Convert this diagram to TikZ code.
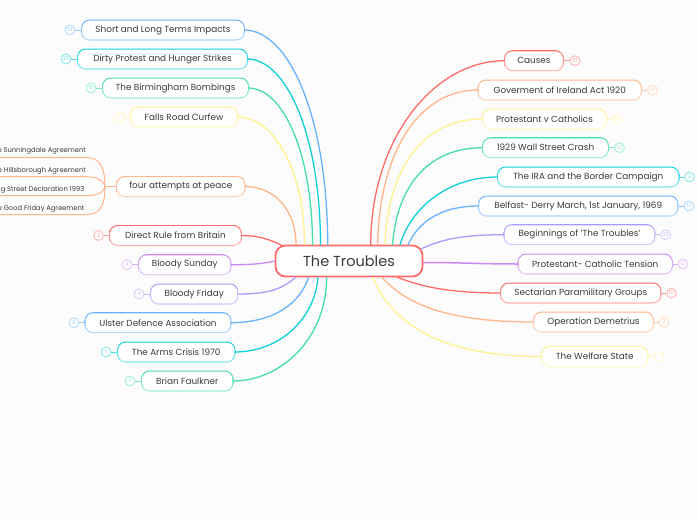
\documentclass[tikz,border=0pt]{standalone}
\usepackage{fontspec}
\setmainfont{Poppins}
\definecolor{cred}{HTML}{FF6B68}
\definecolor{corange}{HTML}{FFB587}
\definecolor{cyellow}{HTML}{FFF38F}
\definecolor{cgreen}{HTML}{45DDA8}
\definecolor{ccyan}{HTML}{0FD0DA}
\definecolor{cblue}{HTML}{66B3FF}
\definecolor{clav}{HTML}{A99BFF}
\definecolor{cpurple}{HTML}{C98AF0}
\definecolor{ink}{HTML}{3A3A40}
\newcommand\leaflabel[1]{\makebox[110pt][r]{#1}}
\tikzset{
  topicbox/.style={rectangle,fill=white,rounded corners=7.7pt,inner sep=0pt,text=ink,font=\fontsize{8.85}{10}\selectfont},
  badge/.style={circle,draw=#1!45,fill=white,line width=1pt,minimum size=9.8pt,inner sep=0pt,text=#1!60,font=\fontsize{5.4}{6}\selectfont},
  stub/.style={#1,line width=1pt},
  conn/.style={#1,line width=1.3pt},
  leaftext/.style={anchor=south east,inner sep=0pt,minimum height=12pt,text=ink,font=\fontsize{6.75}{8}\selectfont},
  rootbox/.style={rectangle,draw=cred,line width=1.8pt,fill=white,rounded corners=10pt,inner sep=0pt,minimum width=147pt,minimum height=31pt,text=ink,font=\fontsize{14.5}{16}\selectfont}
}
% name, colour, x1, x2, cy, text, badge x, number
\newcommand\topicnode[8]{%
  \shade[top color=#2,bottom color=#2!50,rounded corners=8.7pt] ({#3},{#5-10.5}) rectangle ({#4},{#5+10.5});
  \node[topicbox,minimum width={(#4-#3-2.2)*1pt},minimum height=18.8pt] (#1) at ({(#3+#4)/2},#5) {\raisebox{-1.1pt}{#6}};
  \node[badge=#2] (#1b) at (#7,#5) {#8};
  \draw[stub=#2!70] (#1) -- (#1b);
}
\begin{document}
\begin{tikzpicture}[x=1pt,y=-1pt]
\useasboundingbox (0,0) rectangle (697,520);
\clip (0,0) rectangle (697,520);
\fill[white!99!black] (0,0) rectangle (697,520);
% left topics
\topicnode{short}{cblue}{81}{245}{30}{Short and Long Terms Impacts}{70}{51}
\topicnode{dirty}{ccyan}{77}{248}{59}{Dirty Protest and Hunger Strikes}{66}{23}
\topicnode{birm}{cgreen}{102}{249}{88}{The Birmingham Bombings}{91}{15}
\topicnode{falls}{cyellow}{130}{238}{117}{Falls Road Curfew}{119}{2}
\shade[top color=corange,bottom color=corange!60,rounded corners=8.7pt] (116,176) rectangle (245.5,197);
\node[topicbox,minimum width=127.3pt,minimum height=18.8pt] (four) at (180.75,186.5) {\raisebox{-1.1pt}{four attempts at peace}};
\topicnode{direct}{cred}{109}{242}{235.5}{Direct Rule from Britain}{98.5}{3}
\topicnode{sunday}{cpurple}{138}{231.5}{264.7}{Bloody Sunday}{127}{4}
\topicnode{friday}{clav}{150}{238.5}{294}{Bloody Friday}{139}{4}
\topicnode{ulster}{cblue}{84.5}{231.5}{322.7}{Ulster Defence Association}{74}{8}
\topicnode{arms}{ccyan}{117}{235.5}{352}{The Arms Crisis 1970}{106}{1}
\topicnode{brian}{cgreen}{141}{233.5}{381}{Brian Faulkner}{130}{2}
% right topics
\topicnode{causes}{cred}{504}{564}{60.7}{Causes}{575}{10}
\topicnode{gov}{corange}{477.5}{642}{90}{Goverment of Ireland Act 1920}{652.5}{19}
\topicnode{prot}{cyellow}{482}{607}{119}{Protestant v Catholics}{617.5}{16}
\topicnode{wall}{cgreen}{482}{609}{147.7}{1929 Wall Street Crash}{619.5}{10}
\topicnode{ira}{ccyan}{497}{679.5}{177}{The IRA and the Border Campaign}{689.5}{2}
\topicnode{belf}{cblue}{478}{678.5}{206}{Belfast- Derry March, 1st January, 1969}{689}{13}
\topicnode{begin}{clav}{503.5}{655.5}{234.7}{Beginnings of 'The Troubles'}{665.5}{32}
\topicnode{pct}{cpurple}{517.5}{673}{264}{Protestant- Catholic Tension}{683}{12}
\topicnode{sect}{cred}{500}{661.5}{293}{Sectarian Paramilitary Groups}{671.5}{10}
\topicnode{oper}{corange}{533}{654}{322}{Operation Demetrius}{664}{3}
\topicnode{welf}{cyellow}{541}{648.5}{356.5}{The Welfare State}{659}{7}
% root
\node[rootbox] (root) at (349,261) {\raisebox{-0.8pt}{The Troubles}};
% attachment points on the root's outline
\foreach \n/\x/\y in {a/327.7/245,b/320.5/245,c/312.5/245,d/304.5/245,e/296/245,f/282/245.5,g/275/261,h/296/277,i/308.7/277,j/318/277,k/326.7/277,
  l/370.7/245,m/377.5/245,n/385/245,o/392.5/245,p/400/245,q/408/245,r/420.7/249,s/423/262.5,t/396.7/277,u/381.7/277,v/372.7/277}
  \coordinate (p\n) at (\x,\y);
% connectors, left
\draw[conn=cblue] (short.east) .. controls +(46,0) and +(0,-125) .. (pa);
\draw[conn=ccyan] (dirty.east) .. controls +(40,0) and +(0,-108) .. (pb);
\draw[conn=cgreen] (birm.east) .. controls +(35,0) and +(0,-92) .. (pc);
\draw[conn=cyellow] (falls.east) .. controls +(37,0) and +(0,-75) .. (pd);
\draw[conn=corange] (four.east) .. controls +(30,0) and +(0,-35) .. (pe);
\draw[conn=cred] (direct.east) .. controls +(18,0) and +(-12,-6) .. (pf);
\draw[conn=cpurple] (sunday.east) .. controls +(22,0) and +(-15,3) .. (pg);
\draw[conn=clav] (friday.east) .. controls +(32,0) and +(-14,12) .. (ph);
\draw[conn=cblue] (ulster.east) .. controls +(45,0) and +(-8,25) .. (pi);
\draw[conn=ccyan] (arms.east) .. controls +(45,0) and +(-3,42) .. (pj);
\draw[conn=cgreen] (brian.east) .. controls +(50,0) and +(0,60) .. (pk);
% connectors, right
\draw[conn=cred] (causes.west) .. controls +(-72,0) and +(0,-105) .. (pl);
\draw[conn=corange] (gov.west) .. controls +(-62,0) and +(2,-90) .. (pm);
\draw[conn=cyellow] (prot.west) .. controls +(-62,0) and +(3,-75) .. (pn);
\draw[conn=cgreen] (wall.west) .. controls +(-58,0) and +(4,-55) .. (po);
\draw[conn=ccyan] (ira.west) .. controls +(-55,0) and +(9,-32) .. (pp);
\draw[conn=cblue] (belf.west) .. controls +(-42,0) and +(9,-20) .. (pq);
\draw[conn=clav] (begin.west) .. controls +(-45,0) and +(20,-9) .. (pr);
\draw[conn=cpurple,line width=1.5pt] (pct.west) .. controls +(-40,0) and +(40,0) .. (ps);
\draw[conn=cred] (sect.west) .. controls +(-50,0) and +(25,10) .. (pt);
\draw[conn=corange] (oper.west) .. controls +(-85,0) and +(25,28) .. (pu);
\draw[conn=cyellow] (welf.west) .. controls +(-100,0) and +(20,48) .. (pv);
% leaves
\coordinate (hub) at (105,186.5);
\node[leaftext] (leafa) at (86,157.5) {\leaflabel{The Sunningdale Agreement}};
\node[leaftext] (leafb) at (86,176.7) {\leaflabel{The Hillsborough Agreement}};
\node[leaftext] (leafc) at (84.5,195.7) {\leaflabel{Downing Street Declaration 1993}};
\node[leaftext] (leafd) at (84.5,214.7) {\leaflabel{The Good Friday Agreement}};
\draw[stub=corange] (hub) -- (four.west);
\draw[stub=corange] (hub) .. controls +(0,-22) and +(12,0) .. (leafa.south east) -- (leafa.south west);
\draw[stub=corange] (hub) .. controls +(-2,-7) and +(10,0) .. (leafb.south east) -- (leafb.south west);
\draw[stub=corange] (hub) .. controls +(-2,7) and +(12,0) .. (leafc.south east) -- (leafc.south west);
\draw[stub=corange] (hub) .. controls +(0,22) and +(14,0) .. (leafd.south east) -- (leafd.south west);
\end{tikzpicture}
\end{document}
